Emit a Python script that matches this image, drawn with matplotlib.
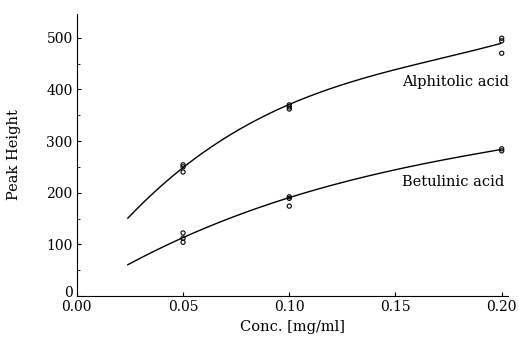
import matplotlib
matplotlib.use("Agg")
import matplotlib.pyplot as plt
import matplotlib.transforms as mtransforms
import numpy as np

# Measured points
alph_x = [0.05, 0.05, 0.05, 0.10, 0.10, 0.10, 0.20, 0.20, 0.20]
alph_y = [254, 250, 240, 370, 366, 362, 499, 494, 470]
betu_x = [0.05, 0.05, 0.05, 0.10, 0.10, 0.10, 0.20, 0.20]
betu_y = [122, 112, 104, 192, 189, 174, 285, 281]

# Fitted curves
alph_cx = [0.024, 0.043, 0.05, 0.071, 0.10, 0.105, 0.137, 0.168, 0.1995]
alph_cy = [147, 227, 254, 308, 368, 377, 424, 461, 487]
betu_cx = [0.024, 0.05, 0.072, 0.10, 0.105, 0.137, 0.168, 0.1995]
betu_cy = [60, 114, 151, 190, 196, 232, 261, 283]

labels = ["Alphitolic acid", "Betulinic acid"]
xticks = [0.00, 0.05, 0.10, 0.15, 0.20]
xticklabels = ["0.00", "0.05", "0.10", "0.15", "0.20"]
yticks = [0, 100, 200, 300, 400, 500]

plt.rcParams['font.family'] = ['DejaVu Serif']
fig = plt.figure(figsize=(5.19, 3.41), dpi=100)
ax = fig.add_axes([0.148, 0.132, 0.831, 0.827])

for cx, cy in [(alph_cx, alph_cy), (betu_cx, betu_cy)]:
    coef = np.polyfit(cx, cy, 3)
    xs = np.linspace(min(cx), max(cx), 200)
    ax.plot(xs, np.polyval(coef, xs), color='black', lw=1.0)

ax.scatter(alph_x, alph_y, s=9, facecolors='none', edgecolors='black', linewidths=0.8, zorder=3)
ax.scatter(betu_x, betu_y, s=9, facecolors='none', edgecolors='black', linewidths=0.8, zorder=3)

ax.text(0.153, 415, labels[0], fontsize=10.5, va='center', ha='left')
ax.text(0.153, 221, labels[1], fontsize=10.5, va='center', ha='left')

ax.set_xlim(0, 0.203)
ax.set_ylim(0, 546)
ax.set_xticks(xticks)
ax.set_xticklabels(xticklabels)
ax.set_yticks(yticks)
ax.set_yticks([50, 150, 250, 350, 450], minor=True)
ax.tick_params(direction='in', length=3, labelsize=10, pad=3)
ax.tick_params(which='minor', direction='in', length=2)
for s in ['top', 'right']:
    ax.spines[s].set_visible(False)
ax.set_xlabel("Conc. [mg/ml]", fontsize=10.5, labelpad=4)
ax.set_ylabel("Peak Height", fontsize=10.5, labelpad=18)
lab0 = ax.get_yticklabels()[0]
lab0.set_transform(lab0.get_transform() + mtransforms.ScaledTranslation(0, 3 / 72, fig.dpi_scale_trans))

fig.savefig("out.png", dpi=100)
